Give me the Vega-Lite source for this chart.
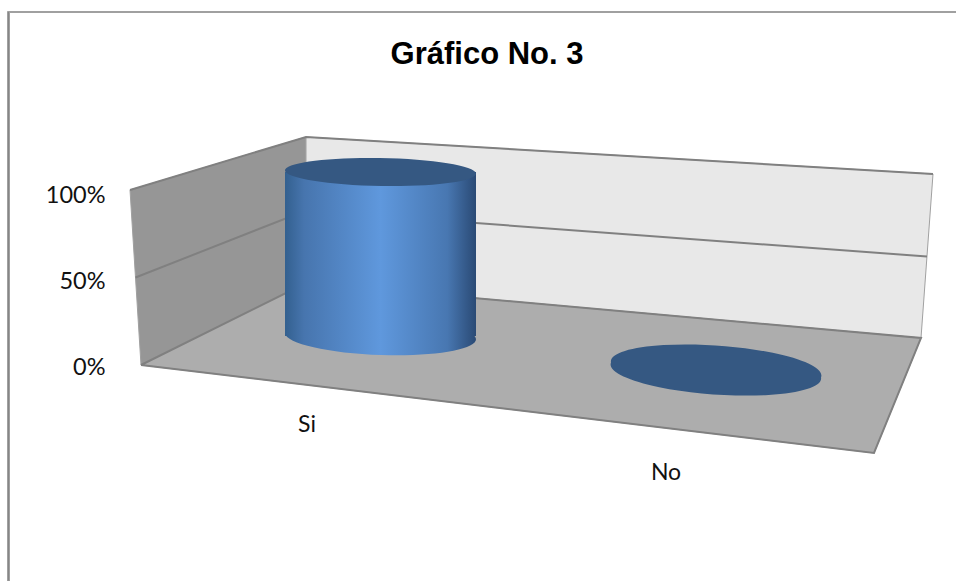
{
  "$schema": "https://vega.github.io/schema/vega-lite/v6.json",
  "width": 956,
  "height": 581,
  "autosize": "none",
  "padding": 0,
  "background": "white",
  "config": {"view": {"stroke": null}},
  "title": {"text": "Gráfico No. 3", "font": "Liberation Sans", "fontSize": 31, "fontWeight": "bold", "color": "#000000", "anchor": "middle", "offset": 0, "dx": 9, "dy": 71},
  "datasets": {
    "respuestas": [{"categoria": "Si", "valor": 1}, {"categoria": "No", "valor": 0}],
    "partes": [{"parte": "marco"}, {"parte": "pared lateral"}, {"parte": "pared fondo"}, {"parte": "piso"}],
    "niveles": [{"nivel": 0}, {"nivel": 0.5}, {"nivel": 1}]
  },
  "resolve": {"scale": {"x": "independent", "y": "independent", "shape": "independent"}},
  "layer": [
    {
      "data": {"name": "partes"},
      "mark": {"type": "point", "filled": true, "opacity": 1, "size": 4, "stroke": "#a0a0a0", "strokeWidth": 1},
      "encoding": {
        "x": {"datum": 0, "type": "quantitative", "stack": null, "scale": {"domain": [0, 1], "range": [141, 130], "zero": false, "nice": false}, "axis": null},
        "y": {"datum": 0, "type": "quantitative", "stack": null, "scale": {"domain": [0, 1], "range": [367, 195], "zero": false, "nice": false},
          "axis": {"values": [0, 0.5, 1], "format": ".0%", "domain": false, "ticks": false, "grid": false, "title": null, "labelFont": "Lato", "labelFontSize": 23.5, "labelColor": "#111111", "offset": -110, "labelPadding": 5, "tickSize": 0}},
        "shape": {"field": "parte", "type": "nominal", "legend": null,
          "scale": {"domain": ["marco", "pared lateral", "pared fondo", "piso"],
            "range": [
              "M-133.5,-355.5 L815,-355.5 L815,-354.5 L-131.5,-354.5 L-131.5,214 L-133.5,214 Z",
              "M-11,-177 L165,-230 L165,-84 L0,-2 Z",
              "M165,-230 L792,-193 L780,-29 L165,-84 Z",
              "M0,-2 L165,-84 L780,-29 L733,86 Z"
            ]}},
        "fill": {"field": "parte", "type": "nominal", "legend": null,
          "scale": {"domain": ["marco", "pared lateral", "pared fondo", "piso"], "range": ["#868686", "#969696", "#e8e8e8", "#adadad"]}}
      }
    },
    {
      "data": {"name": "niveles"},
      "mark": {"type": "point", "filled": false, "opacity": 1, "size": 4, "stroke": "#808080", "strokeWidth": 2},
      "encoding": {
        "x": {"field": "nivel", "type": "quantitative", "stack": null, "scale": {"domain": [0, 1], "range": [141, 130], "zero": false, "nice": false}, "axis": null},
        "y": {"field": "nivel", "type": "quantitative", "stack": null, "scale": {"domain": [0, 1], "range": [365, 190], "zero": false, "nice": false}, "axis": null},
        "shape": {"field": "nivel", "type": "nominal", "legend": null,
          "scale": {"domain": [0, 0.5, 1],
            "range": [
              "M0,0 L165,-82 L780,-27 L733,88 L0,0",
              "M0,0 L170.5,-67 L791.5,-21",
              "M0,0 L176,-53 L803,-16"
            ]}}
      }
    },
    {
      "data": {"name": "respuestas"},
      "transform": [{"filter": "datum.categoria === 'Si'"}],
      "mark": {"type": "point", "filled": true, "opacity": 1, "size": 4,
        "shape": "M-95.5,-3 A95.5,19,2,1,1,95.5,3 A95.5,19,2,1,1,-95.5,-3 Z",
        "fill": {"gradient": "linear", "x1": 0, "y1": 0, "x2": 1, "y2": 0, "stops": [{"offset": 0, "color": "#33608f"}, {"offset": 0.1, "color": "#4775ae"}, {"offset": 0.5, "color": "#5f98dd"}, {"offset": 0.85, "color": "#4877b1"}, {"offset": 1, "color": "#2a4a75"}]}},
      "encoding": {
        "x": {"field": "categoria", "type": "nominal", "scale": {"type": "point", "padding": 0, "domain": ["Si", "No"], "range": [380.5, 716]}, "axis": null},
        "y": {"datum": 0, "type": "quantitative", "scale": {"domain": [0, 1], "range": [336, 172], "zero": false, "nice": false}, "axis": null}
      }
    },
    {
      "data": {"name": "respuestas"},
      "transform": [{"filter": "datum.categoria === 'Si'"}],
      "mark": {"type": "bar", "width": 191,
        "fill": {"gradient": "linear", "x1": 0, "y1": 0, "x2": 1, "y2": 0, "stops": [{"offset": 0, "color": "#33608f"}, {"offset": 0.1, "color": "#4775ae"}, {"offset": 0.5, "color": "#5f98dd"}, {"offset": 0.85, "color": "#4877b1"}, {"offset": 1, "color": "#2a4a75"}]}},
      "encoding": {
        "x": {"field": "categoria", "type": "nominal", "scale": {"type": "point", "padding": 0, "domain": ["Si", "No"], "range": [380.5, 716]}, "axis": null},
        "y": {"field": "valor", "type": "quantitative", "stack": null, "scale": {"domain": [0, 1], "range": [336, 172], "zero": false, "nice": false}, "axis": null}
      }
    },
    {
      "data": {"name": "respuestas"},
      "transform": [{"filter": "datum.categoria === 'Si'"}],
      "mark": {"type": "point", "filled": true, "opacity": 1, "size": 4, "fill": "#355882",
        "shape": "M-95.5,-1.5 A95.5,14,1,1,1,95.5,1.5 A95.5,14,1,1,1,-95.5,-1.5 Z"},
      "encoding": {
        "x": {"field": "categoria", "type": "nominal", "scale": {"type": "point", "padding": 0, "domain": ["Si", "No"], "range": [380.5, 716]}, "axis": null},
        "y": {"field": "valor", "type": "quantitative", "scale": {"domain": [0, 1], "range": [336, 172], "zero": false, "nice": false}, "axis": null}
      }
    },
    {
      "data": {"name": "respuestas"},
      "transform": [{"filter": "datum.categoria === 'No'"}],
      "mark": {"type": "point", "filled": true, "opacity": 1, "size": 4, "fill": "#355882",
        "shape": "M-105,-7.5 A105.5,23,4,1,1,105,7.5 A105.5,23,4,1,1,-105,-7.5 Z"},
      "encoding": {
        "x": {"field": "categoria", "type": "nominal", "scale": {"type": "point", "padding": 0, "domain": ["Si", "No"], "range": [380.5, 716]}, "axis": null},
        "y": {"field": "valor", "type": "quantitative", "scale": {"domain": [0, 1], "range": [370, 206], "zero": false, "nice": false}, "axis": null}
      }
    },
    {
      "data": {"name": "respuestas"},
      "mark": {"type": "text", "font": "Lato", "fontSize": 23, "color": "#111111", "align": "center", "baseline": "middle"},
      "encoding": {
        "text": {"field": "categoria", "type": "nominal"},
        "x": {"field": "categoria", "type": "nominal", "scale": {"type": "point", "padding": 0, "domain": ["Si", "No"], "range": [307, 666]}, "axis": null},
        "y": {"field": "categoria", "type": "nominal", "scale": {"type": "point", "padding": 0, "domain": ["Si", "No"], "range": [425, 473]}, "axis": null}
      }
    }
  ]
}
